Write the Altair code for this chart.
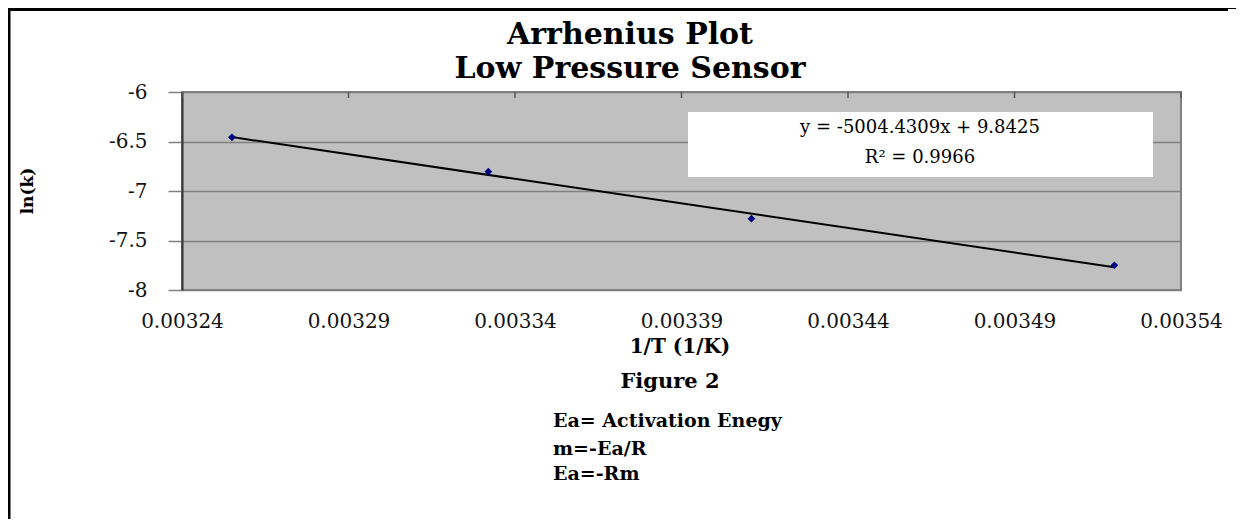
import altair as alt
import pandas as pd

# ---- data ----
inv_T = [0.003255, 0.003332, 0.003411, 0.003520]
ln_k = [-6.458, -6.805, -7.280, -7.750]
x_ticks = [0.00324, 0.00329, 0.00334, 0.00339, 0.00344, 0.00349, 0.00354]
y_ticks = [-8, -7.5, -7, -6.5, -6]

title_lines = ["Arrhenius Plot", "Low Pressure Sensor"]
x_title = "1/T (1/K)"
y_title = "ln(k)"
eq_lines = ["y = -5004.4309x + 9.8425", "R\u00b2 = 0.9966"]
caption = "Figure 2"
notes = ["Ea= Activation Enegy", "m=-Ea/R", "Ea=-Rm"]

df = pd.DataFrame({"x": inv_T, "y": ln_k})
ticks_df = pd.DataFrame({"x": x_ticks})
one = pd.DataFrame({"k": [0]})

SERIF = "DejaVu Serif"
xs = alt.Scale(domain=[0.00324, 0.00354], nice=False, zero=False)
ys = alt.Scale(domain=[-8, -6], nice=False, zero=False)

x_enc = alt.X(
    "x:Q", scale=xs,
    axis=alt.Axis(values=x_ticks, format=".5f", title=None, domain=False,
                  ticks=False, tickSize=0, grid=False, labelPadding=21,
                  labelFont=SERIF, labelFontSize=20, labelColor="#111",
                  labelFlush=False, labelOverlap=False),
)
y_enc = alt.Y(
    "y:Q", scale=ys,
    axis=alt.Axis(values=y_ticks, labelExpr="datum.value + ''", title=None,
                  domain=True, domainColor="#333", domainWidth=2,
                  ticks=True, tickSize=14, tickColor="#808080", tickWidth=1.5,
                  grid=True, gridColor="#808080", gridWidth=1.5,
                  labelPadding=21, labelFont=SERIF, labelFontSize=20,
                  labelColor="#111", labelFlush=False, labelOverlap=False),
)


def txt(s, x, y, size, weight="normal", align="center", baseline="alphabetic",
        angle=0, line_height=None):
    kw = dict(text=s, font=SERIF, fontSize=size, fontWeight=weight, align=align,
              baseline=baseline, color="black", angle=angle)
    if line_height is not None:
        kw["lineHeight"] = line_height
    return alt.Chart(one).mark_text(**kw).encode(x=alt.value(x), y=alt.value(y))


box = alt.Chart(one).mark_rect(color="white").encode(
    x=alt.value(506), x2=alt.value(971), y=alt.value(20), y2=alt.value(85)
)

trend = alt.Chart(df).transform_regression("x", "y").mark_line(
    color="black", strokeWidth=2
).encode(x=x_enc, y=y_enc)

points = alt.Chart(df).mark_point(
    shape="diamond", filled=True, size=60, color="#000080", opacity=1
).encode(x=x_enc, y=y_enc)

top_ticks = alt.Chart(ticks_df).mark_rule(color="#555", strokeWidth=1.5).encode(
    x=x_enc, y=alt.value(0), y2=alt.value(6)
)

frame_left = alt.Chart(one).mark_rule(color="black", strokeWidth=3).encode(
    x=alt.value(-173), y=alt.value(-84), y2=alt.value(427)
)
frame_top = alt.Chart(one).mark_rule(color="black", strokeWidth=3).encode(
    x=alt.value(-174), x2=alt.value(1046), y=alt.value(-82.5)
)
frame_top_thin = alt.Chart(one).mark_rule(color="black", strokeWidth=1).encode(
    x=alt.value(1046), x2=alt.value(1054), y=alt.value(-83.5)
)

texts = [
    txt(title_lines, 448, -57, 30, "bold", baseline="middle", line_height=34),
    txt(eq_lines[0], 738, 36, 18, baseline="middle"),
    txt(eq_lines[1], 738, 66, 18, baseline="middle"),
    txt(x_title, 498, 261, 20, "bold"),
    txt(y_title, -154, 99, 17, "bold", baseline="middle", angle=270),
    txt(caption, 488, 296, 21, "bold"),
    txt(notes[0], 371, 335, 19, "bold", align="left"),
    txt(notes[1], 371, 363, 19, "bold", align="left"),
    txt(notes[2], 371, 388, 19, "bold", align="left"),
]

chart = alt.layer(
    box, trend, points, top_ticks, frame_left, frame_top, frame_top_thin, *texts
).properties(
    width=999, height=198,
    autosize=alt.AutoSizeParams(type="none"),
    padding={"left": 174, "top": 84, "right": 55, "bottom": 229},
).configure_view(
    fill="#C0C0C0", stroke="#808080", strokeWidth=2
)

chart.save("out.html", embed_options={"renderer": "svg", "actions": False})
